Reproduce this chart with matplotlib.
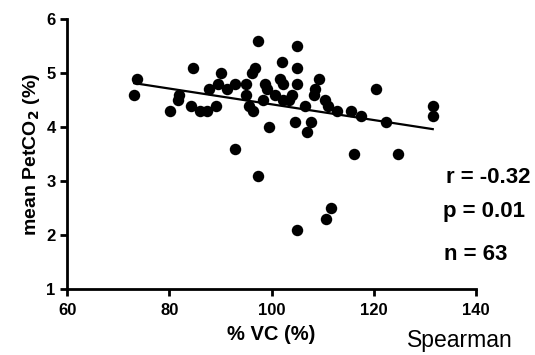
import matplotlib
matplotlib.use('Agg')
import matplotlib.pyplot as plt
import numpy as np

plt.rcParams['font.family'] = ['Liberation Sans', 'DejaVu Sans']

# %VC values (x) and mean PetCO2 values (y)
vc = [73.6, 73.1, 80.1, 81.9, 81.7, 84.2, 84.7, 86.0, 87.3, 89.1,
      87.8, 89.6, 90.1, 91.2, 92.9, 92.9, 95.0, 95.0, 95.6, 96.1,
      96.8, 96.4, 97.4, 97.4, 98.3, 98.7, 99.1, 99.6, 100.7, 101.6,
      102.0, 102.3, 102.3, 103.5, 104.1, 104.6, 104.9, 104.9, 104.9, 106.6,
      106.9, 107.8, 108.5, 108.3, 109.4, 110.5, 111.1, 112.9, 115.6, 117.5,
      120.5, 122.4, 131.6, 131.6, 116.2, 124.7, 111.6, 110.7, 105.0]
petco2 = [4.9, 4.6, 4.3, 4.6, 4.5, 4.4, 5.1, 4.3, 4.3, 4.4,
          4.7, 4.8, 5.0, 4.7, 4.8, 3.6, 4.8, 4.6, 4.4, 5.0,
          5.1, 4.3, 5.6, 3.1, 4.5, 4.8, 4.7, 4.0, 4.6, 4.9,
          5.2, 4.8, 4.5, 4.5, 4.6, 4.1, 5.5, 5.1, 4.8, 4.4,
          3.9, 4.1, 4.7, 4.6, 4.9, 4.5, 4.4, 4.3, 4.3, 4.2,
          4.7, 4.1, 4.4, 4.2, 3.5, 3.5, 2.5, 2.3, 2.1]

stats = ['r = -0.32', 'p = 0.01', 'n = 63']

fig = plt.figure(figsize=(5.35, 3.55), dpi=100)
ax = fig.add_axes([0.126, 0.186, 0.763, 0.760])

ax.scatter(vc, petco2, s=68, c='black', zorder=3, linewidths=0)

# linear fit line
k, b = np.polyfit(vc, petco2, 1)
xf = np.array([min(vc), max(vc)])
ax.plot(xf, k * xf + b, color='black', linewidth=1.6, zorder=2)

ax.set_xlim(60, 140)
ax.set_ylim(1, 6)
ax.set_xticks([60, 80, 100, 120, 140])
ax.set_yticks([1, 2, 3, 4, 5, 6])
for s in ['top', 'right']:
    ax.spines[s].set_visible(False)
for s in ['left', 'bottom']:
    ax.spines[s].set_linewidth(2)
ax.tick_params(direction='out', length=5, width=2, labelsize=12)
ax.tick_params(axis='x', pad=5)
for lab in ax.get_xticklabels() + ax.get_yticklabels():
    lab.set_fontweight('bold')

ax.set_xlabel('% VC (%)', fontsize=14.5, fontweight='bold', labelpad=5)
ax.set_ylabel('mean PetCO$_\\mathbf{2}$ (%)', fontsize=14, fontweight='bold', labelpad=3)

ax.text(134.2, 3.06, stats[0], fontsize=16, fontweight='bold', va='center', clip_on=False)
ax.text(133.6, 2.43, stats[1], fontsize=16, fontweight='bold', va='center', clip_on=False)
ax.text(133.8, 1.63, stats[2], fontsize=16, fontweight='bold', va='center', clip_on=False)

fig.text(0.761, 0.022, 'Spearman', fontsize=16.5)

fig.savefig('out.png', dpi=100)
